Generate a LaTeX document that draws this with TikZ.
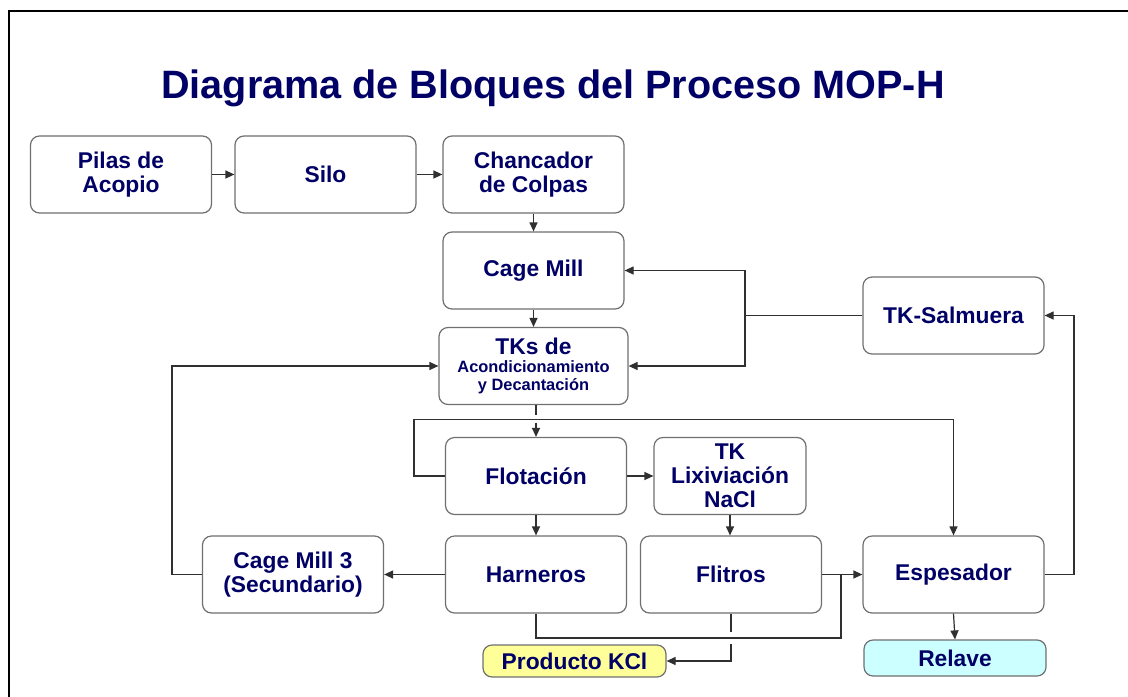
\documentclass[tikz,border=0pt]{standalone}
\usepackage{fontspec}
\setmainfont{Liberation Sans}
\usetikzlibrary{arrows.meta}

\definecolor{azul}{HTML}{000066}
\definecolor{borde}{HTML}{707070}
\definecolor{gris}{HTML}{303030}
\definecolor{amarillo}{HTML}{FFFF99}
\definecolor{celeste}{HTML}{CCFFFF}

\begin{document}
\begin{tikzpicture}[x=0.5pt,y=-0.5pt,
  bloque/.style={draw=borde, fill=white, line width=0.6pt, rounded corners=4.5pt,
    minimum width=90.5pt, minimum height=38.5pt, inner sep=1pt, align=center,
    text=azul, font=\bfseries\fontsize{11.4}{11.8}\selectfont},
  salida/.style={bloque, minimum height=17pt},
  flujo/.style={draw=gris, line width=0.6pt, -{Triangle[length=4.5pt,width=4pt]}},
  tramo/.style={draw=gris, line width=0.6pt}]

\useasboundingbox (0,0) rectangle (1128,696);
\fill[white] (-10,-10) rectangle (1140,710);

% marco
\draw[line width=1.1pt] (9,710) -- (9,11) -- (1140,11);

\node[text=azul, font=\bfseries\fontsize{19.8}{22}\selectfont] (titulo) at (553,88)
  {Diagrama de Bloques del Proceso MOP-H};

% bloques
\node[bloque] (pilas) at (121,174.5) {Pilas de\\Acopio};
\node[bloque] (silo) at (325.5,174.5) {Silo};
\node[bloque] (chanc) at (533.5,174.5) {Chancador\\de Colpas};
\node[bloque] (cage) at (533.5,270.5) {Cage Mill};
\node[bloque] (salm) at (953.5,315.5) {TK-Salmuera};
\node[bloque, minimum width=94.5pt] (tks) at (533.5,366)
  {TKs de\\[-3pt]{\fontsize{8.2}{8.5}\selectfont Acondicionamiento}\\[-3pt]{\fontsize{8.2}{8.5}\selectfont y Decantación}};
\node[bloque] (flot) at (536,476) {Flotación};
\node[bloque, minimum width=76pt, font=\bfseries\fontsize{11.4}{12}\selectfont] (lixi) at (730,476) {TK\\Lixiviación\\NaCl};
\node[bloque] (cage3) at (293,574.5) {Cage Mill 3\\(Secundario)};
\node[bloque] (harn) at (536,574.5) {Harneros};
\node[bloque] (filt) at (731,574.5) {Flitros};
\node[bloque] (espe) at (953.5,574.5) {Espesador};
\node[salida, fill=amarillo, minimum width=91.5pt, minimum height=16pt] (prod) at (574.5,661) {Producto KCl};
\node[salida, fill=celeste, minimum width=91pt, minimum height=18pt] (relave) at (955,658) {Relave};

% puntos de quiebre
\coordinate (nudo) at (745,315.5);
\coordinate (retorno) at (172,574.5);
\coordinate (colas) at (414,419.5);
\coordinate (union) at (841,638);
\coordinate (subida) at (1074,574.5);
\path (flot.north |- colas) coordinate (cruce);
\path (filt.south |- union) coordinate (cruce2);

% flujos
\draw[flujo] (pilas) -- (silo);
\draw[flujo] (silo) -- (chanc);
\draw[flujo] (chanc) -- (cage);
\draw[flujo] (cage.south) -- (cage.south |- tks.north);

\draw[tramo] (salm.west) -- (nudo);
\draw[flujo] (nudo) |- (cage.east);
\draw[flujo] (nudo) |- (tks.east);

\draw[flujo] (cage3.west) -- (retorno) |- (tks.west);

\draw[tramo] (flot.north |- tks.south) -- ([yshift=2.5pt]cruce);
\draw[flujo] ([yshift=-1.5pt]cruce) -- (flot.north);
\draw[flujo] (flot.west) -| (colas) -| (espe.north);

\draw[flujo] (flot) -- (lixi);
\draw[flujo] (flot) -- (harn);
\draw[flujo] (lixi.south) -- (lixi.south |- filt.north);
\draw[flujo] (harn) -- (cage3);
\draw[flujo] (filt) -- (espe);

\draw[tramo] (harn.south) |- (union) -- (union |- filt.east);

\draw[tramo] (filt.south) -- ([yshift=3pt]cruce2);
\draw[flujo] ([yshift=-3pt]cruce2) |- (prod.east);

\draw[flujo] (espe.south) -- (relave.north);
\draw[flujo] (espe.east) -- (subida) |- (salm.east);

\end{tikzpicture}
\end{document}
